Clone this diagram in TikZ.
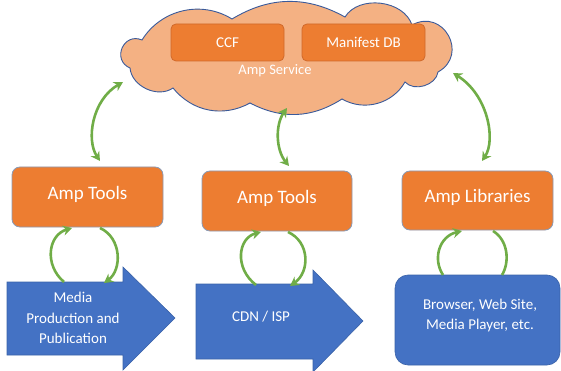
\documentclass[tikz,border=0pt]{standalone}
\usepackage{fontspec}
\setmainfont{Carlito}
\usetikzlibrary{arrows.meta}
\definecolor{orng}{HTML}{ED7D31}
\definecolor{orngedge}{HTML}{8A9AB5}
\definecolor{ccfedge}{HTML}{D0692A}
\definecolor{cloudfill}{HTML}{F4B183}
\definecolor{cloudedge}{HTML}{3A5A9A}
\definecolor{bluefill}{HTML}{4472C4}
\definecolor{blueedge}{HTML}{3A62A8}
\definecolor{grn}{HTML}{70AD47}
\tikzset{
  ambox/.style={draw=orngedge, fill=orng, line width=0.8pt, rounded corners=8pt},
  ccfbox/.style={draw=ccfedge, fill=orng, line width=0.8pt, rounded corners=5pt},
  bigtxt/.style={text=white, font=\fontsize{19}{22}\selectfont},
  midtxt/.style={text=white, font=\fontsize{15}{18}\selectfont},
  smtxt/.style={text=white, align=center, font=\fontsize{15}{20.5}\selectfont},
  bluesh/.style={fill=bluefill, draw=blueedge, line width=0.6pt},
  garrow/.style={draw=grn, line width=2.6pt, {Stealth[length=9pt,width=10pt]}-{Stealth[length=9pt,width=10pt]}},
  gone/.style={draw=grn, line width=2.6pt, -{Stealth[length=9pt,width=10pt]}},
  gnone/.style={draw=grn, line width=2.6pt}
}
\begin{document}
\begin{tikzpicture}[x=1pt,y=-1pt]
\useasboundingbox (0,0) rectangle (561,371);
% cloud
\path[fill=cloudfill, draw=cloudedge, line width=0.9pt]
 (130,68) to[bend left=90, looseness=1.7] (142,40)
 to[bend left=45] (232,19)
 to[bend left=30] (345,17)
 to[bend left=65] (412,25)
 to[bend left=90, looseness=1.7] (438,72)
 to[bend left=65] (405,82)
 to[bend left=45] (342,99)
 to[bend left=30] (250,103)
 to[bend left=40] (173,88)
 to[bend left=60] (130,68) -- cycle;
\node[ccfbox, minimum width=113pt, minimum height=37pt] (ccf) at (227.5,42.5) {};
\node[midtxt] at (ccf.center) {CCF};
\node[ccfbox, minimum width=123pt, minimum height=37pt] (mdb) at (363.5,42.5) {};
\node[midtxt] at (mdb.center) {Manifest DB};
\node[text=white, font=\fontsize{14.5}{17}\selectfont] (svc) at (275,71) {Amp Service};
% orange boxes
\node[ambox, minimum width=151pt, minimum height=60pt] (t1) at (87.5,197) {};
\node[bigtxt] at (87.5,194) {Amp Tools};
\node[ambox, minimum width=150pt, minimum height=60pt] (t2) at (277,201) {};
\node[bigtxt] at (277,198) {Amp Tools};
\node[ambox, minimum width=151pt, minimum height=59pt] (t3) at (477.5,200.5) {};
\node[bigtxt] at (477.5,197.5) {Amp Libraries};
% blue arrows
\path[bluesh] (7,282) -- (123,282) -- (123,267) -- (175,318) -- (123,370) -- (123,355) -- (7,355) -- cycle;
\node[smtxt] (a1) at (73,318) {Media\\Production and\\Publication};
\path[bluesh] (196,284) -- (313,284) -- (313,270) -- (363,321) -- (313,372) -- (313,359) -- (196,359) -- cycle;
\node[midtxt] (a2) at (261,317) {CDN / ISP};
\path[bluesh, rounded corners=13pt] (395,275) rectangle (560,365);
\node[smtxt, font=\fontsize{15}{20}\selectfont] (a3) at (480,315) {Browser, Web Site,\\Media Player, etc.};
% connector endpoints
\coordinate (c1) at (123,82);  \coordinate (e1) at (100,161);
\coordinate (c2) at (287,108); \coordinate (e2) at (289,166);
\coordinate (c3) at (453,73);  \coordinate (e3) at (482,161);
\draw[garrow] (c1) .. controls (92,100) and (86,140) .. (e1);
\draw[garrow] (c2) .. controls (275,125) and (276,150) .. (e2);
\draw[garrow] (c3) .. controls (488,95) and (496,140) .. (e3);
% loops
\coordinate (l1a) at (64,282); \coordinate (l1b) at (72,228);
\coordinate (l1c) at (100,228); \coordinate (l1d) at (104,283);
\draw[gone] (l1a) .. controls (44,265) and (48,235) .. (l1b);
\draw[gone] (l1c) .. controls (122,238) and (122,270) .. (l1d);
\coordinate (l2a) at (256,285); \coordinate (l2b) at (261,232);
\coordinate (l2c) at (288,232); \coordinate (l2d) at (290,286);
\draw[gone] (l2a) .. controls (234,268) and (238,238) .. (l2b);
\draw[gone] (l2c) .. controls (310,242) and (310,272) .. (l2d);
\coordinate (l3a) at (443,275); \coordinate (l3b) at (462,231);
\coordinate (l3c) at (493,231); \coordinate (l3d) at (502,275);
\draw[gone] (l3a) .. controls (432,258) and (440,236) .. (l3b);
\draw[gnone] (l3c) .. controls (508,240) and (510,262) .. (l3d);
\end{tikzpicture}
\end{document}
